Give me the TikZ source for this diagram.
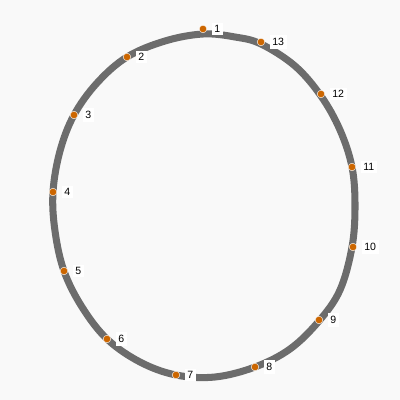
\documentclass[tikz,border=0pt]{standalone}
\usepackage{fontspec}
\setmainfont{Liberation Sans}
\usetikzlibrary{positioning}
\definecolor{bgcol}{RGB}{249,249,249}
\definecolor{loopcol}{RGB}{108,108,108}
\definecolor{dotcol}{RGB}{204,102,0}

\begin{document}
\begin{tikzpicture}[x=0.025cm,y=-0.025cm,
	dot/.style={shape=circle,fill=dotcol,draw=white,line width=0.3pt,inner sep=0pt,minimum size=1.9mm},
	num/.style={fill=white,inner sep=2pt,font=\fontsize{7.5}{8}\selectfont},
	ring/.style={draw=loopcol,line width=5pt,line join=round}]

	\fill[bgcol] (0,0) rectangle (400,400);
	\useasboundingbox (0,0) rectangle (400,400);

	\draw[ring] plot[smooth cycle,tension=0.6] coordinates {
		(203,34) (235,37) (261,44) (295,66) (321,96) (340,130)
		(352,167) (355,206) (352,247) (340,290) (319,321) (290,349)
		(255,367) (215,377) (176,375) (140,362) (107,339) (82,307)
		(64,271) (55,231) (53,192) (60,151) (74,115) (97,83)
		(127,57) (165,41)};

	\node[dot] (p1) at (203,29)   {};
	\node[dot] (p2) at (127,57)   {};
	\node[dot] (p3) at (74,115)   {};
	\node[dot] (p4) at (53,192)   {};
	\node[dot] (p5) at (64,271)   {};
	\node[dot] (p6) at (107,339)  {};
	\node[dot] (p7) at (176,375)  {};
	\node[dot] (p8) at (255,367)  {};
	\node[dot] (p9) at (319,320)  {};
	\node[dot] (p10) at (353,247) {};
	\node[dot] (p11) at (352,167) {};
	\node[dot] (p12) at (321,94)  {};
	\node[dot] (p13) at (261,42)  {};

	\node[num,right=3pt of p1]  (n1)  {1};
	\node[num,right=3pt of p2]  (n2)  {2};
	\node[num,right=3pt of p3]  (n3)  {3};
	\node[num,right=3pt of p4]  (n4)  {4};
	\node[num,right=3pt of p5]  (n5)  {5};
	\node[num,right=3pt of p6]  (n6)  {6};
	\node[num,right=3pt of p7]  (n7)  {7};
	\node[num,right=3pt of p8]  (n8)  {8};
	\node[num,right=3pt of p9]  (n9)  {9};
	\node[num,right=3pt of p10] (n10) {10};
	\node[num,right=3pt of p11] (n11) {11};
	\node[num,right=3pt of p12] (n12) {12};
	\node[num,right=3pt of p13] (n13) {13};

\end{tikzpicture}
\end{document}
